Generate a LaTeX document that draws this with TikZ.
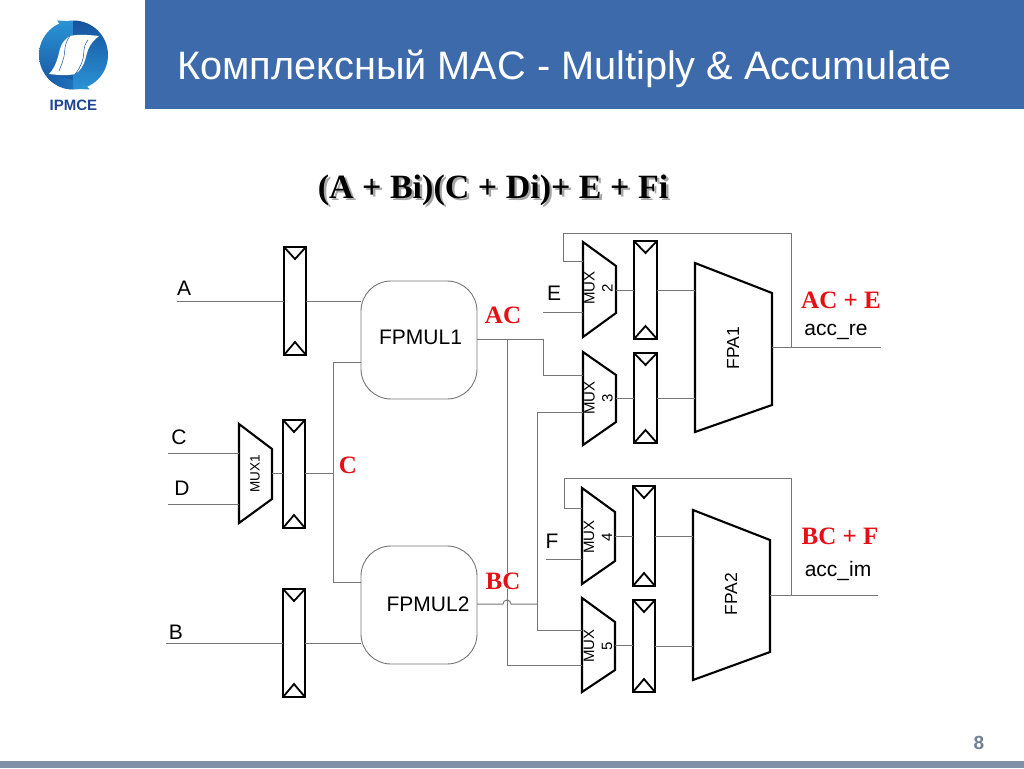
\documentclass[tikz,border=0pt]{standalone}
\usepackage{fontspec}
\setmainfont{Liberation Sans}
\newfontfamily\serifbf{Liberation Serif}[BoldFont={Liberation Serif Bold}]
\definecolor{hdr}{HTML}{3D6AAB}
\definecolor{foot}{HTML}{7F91A7}
\definecolor{wire}{HTML}{757575}
\definecolor{redl}{HTML}{E60F14}
\definecolor{pnum}{HTML}{6F8198}
\definecolor{ldark}{HTML}{17539F}
\definecolor{llight}{HTML}{2A93D5}
\definecolor{lmid}{HTML}{1F74BC}
\definecolor{ltext}{HTML}{1F4690}
\tikzset{
 x=1pt,y=-1pt,
 wireline/.style={draw=wire,line width=1pt},
 blockline/.style={draw=black,line width=2.1pt,line join=miter,fill=white},
 regbox/.style={blockline,rectangle,inner sep=0pt,outer sep=0pt},
 multbox/.style={draw=wire,line width=0.9pt,rectangle,rounded corners=30pt,inner sep=0pt,outer sep=0pt},
 blockanchor/.style={rectangle,inner sep=0pt,outer sep=0pt},
 signal/.style={font=\fontsize{21}{23}\selectfont,inner sep=0pt},
 redlabel/.style={font=\serifbf\bfseries\fontsize{25}{27}\selectfont,text=redl,inner sep=0pt},
 muxtext/.style={font=\fontsize{15}{18}\selectfont,rotate=90,align=center,inner sep=0pt},
 fpatext/.style={font=\fontsize{17.5}{19}\selectfont,rotate=90,inner sep=0pt},
}
% register: name, left, top, right, bottom
\newcommand{\regblock}[5]{%
 \node[regbox,minimum width=#4-#2,minimum height=#5-#3] (#1) at ({(#2+#4)/2},{(#3+#5)/2}) {};
 \draw[draw=black,line width=1.8pt,line join=miter] (#2,#3) -- ({(#2+#4)/2},{#3+12}) -- (#4,#3);
 \draw[draw=black,line width=1.8pt,line join=miter] (#2,#5) -- ({(#2+#4)/2},{#5-13}) -- (#4,#5);
}
% trapezoid: name, left, right, top, bottom, right top, right bottom
\newcommand{\trapblock}[7]{%
 \node[blockanchor,minimum width=#3-#2,minimum height=#5-#4] (#1) at ({(#2+#3)/2},{(#4+#5)/2}) {};
 \draw[blockline] (#2,#4) -- (#3,#6) -- (#3,#7) -- (#2,#5) -- cycle;
}
\newcommand{\formulatext}{(A + Bi)(C + Di)+ E + Fi}
\begin{document}
\begin{tikzpicture}
\useasboundingbox (0,0) rectangle (1024,768);
\fill[white] (0,0) rectangle (1024,768);
\fill[hdr] (145,0) rectangle (1024,109);
\fill[foot] (0,761) rectangle (1024,768);
\node[anchor=west,inner sep=0pt,text=white,font=\fontsize{39.7}{42}\selectfont] (title) at (177,69) {Комплексный MAC - Multiply \& Accumulate};
% logo
\begin{scope}
 \clip (73.5,55) circle (34.5);
 \shade[top color=llight,bottom color=ldark] (39,21) rectangle (73.5,89);
 \shade[top color=ldark,bottom color=llight] (73.5,21) rectangle (108,89);
 \shade[left color=ldark,right color=lmid] (49,74) -- (73,80) -- (73,89) -- (39,89) -- cycle;
\end{scope}
\fill[llight] (57,20.5) -- (66,21) -- (62,27) -- cycle;
\fill[llight] (80,89) -- (90,89.5) -- (84,84) -- cycle;
\fill[white] (99,36) .. controls (90,35) and (78,34) .. (70,36) .. controls (60,42) and (60,50) .. (58,57) .. controls (56,64) and (53,70) .. (49,74) .. controls (58,75) and (67,76) .. (75,74) .. controls (85,68) and (85,58) .. (88,50) .. controls (90,44) and (95,39) .. (99,36) -- cycle;
\draw[ldark,line width=0.5pt] (70,36) .. controls (63,45) and (66,52) .. (63,60) .. controls (62,64) and (60,68) .. (59,71);
\draw[ldark,line width=0.5pt] (88,40) .. controls (82,47) and (85,56) .. (82,62) .. controls (80,67) and (78,71) .. (75,74);
\node[inner sep=0pt,text=ltext,font=\bfseries\fontsize{15}{16}\selectfont] (logotext) at (73.5,105) {IPMCE};
% formula with its drop shadow
\node[inner sep=0pt,font=\serifbf\bfseries\fontsize{34}{36}\selectfont] (formula) at (493,190) {\makebox[0pt][l]{\hspace{2.5pt}\raisebox{-2.5pt}[0pt][0pt]{\textcolor{black!35}{\formulatext}}}\formulatext};
% free ends
\coordinate (inA) at (177,301);
\coordinate (inC) at (168,453);
\coordinate (inD) at (168,504);
\coordinate (inB) at (166,643);
\coordinate (inE) at (543,312);
\coordinate (inF) at (546,559);
\coordinate (outRe) at (881,347);
\coordinate (outIm) at (878,595);
% bends
\coordinate (cj) at (333,473);
\coordinate (cUp) at (333,362);
\coordinate (cDn) at (333,582);
\coordinate (acOut) at (477,339);
\coordinate (bcOut) at (477,604);
% blocks
\regblock{rA}{284}{247}{306}{355}
\regblock{rC}{283}{420}{305}{528}
\regblock{rB}{283}{589}{305}{697}
\regblock{r2}{634}{241}{657}{339}
\regblock{r3}{634}{353}{657}{443}
\regblock{r4}{633}{486}{655}{586}
\regblock{r5}{633}{600}{655}{692}
\trapblock{m1}{239}{272}{424}{523}{449}{499}
\trapblock{m2}{583}{616}{242}{337}{266}{313}
\trapblock{m3}{583}{616}{352}{445}{375}{422}
\trapblock{m4}{582}{615}{488}{584}{512}{561}
\trapblock{m5}{582}{615}{598}{692}{622}{670}
\trapblock{fa1}{695}{772}{263}{432}{293}{405}
\trapblock{fa2}{693}{770}{510}{680}{540}{652}
\node[multbox,minimum width=116pt,minimum height=118pt] (f1) at (419,340) {};
\node[multbox,minimum width=116pt,minimum height=118pt] (f2) at (419,605) {};
% block texts
\node[signal] (f1t) at (420.5,337) {FPMUL1};
\node[signal] (f2t) at (428,604) {FPMUL2};
\node[muxtext,font=\fontsize{13.5}{18}\selectfont] (mt1) at (255,474) {MUX1};
\node[muxtext] (mt2) at (598.5,288) {MUX\\2};
\node[muxtext] (mt3) at (598.5,398) {MUX\\3};
\node[muxtext] (mt4) at (598,537) {MUX\\4};
\node[muxtext] (mt5) at (598,646) {MUX\\5};
\node[fpatext] (ft1) at (733,348) {FPA1};
\node[fpatext] (ft2) at (731,594) {FPA2};
% wires
\draw[wireline] (inA) -- (rA.west |- inA);
\draw[wireline] (rA.east |- inA) -- (f1.west |- inA);
\draw[wireline] (inC) -- (m1.west |- inC);
\draw[wireline] (inD) -- (m1.west |- inD);
\draw[wireline] (m1.east |- cj) -- (rC.west |- cj);
\draw[wireline] (rC.east |- cj) -- (cj);
\draw[wireline] (f1.west |- cUp) -- (cUp) -- (cDn) -- (f2.west |- cDn);
\draw[wireline] (inB) -- (rB.west |- inB);
\draw[wireline] (rB.east |- inB) -- (f2.west |- inB);
% AC
\draw[wireline] (acOut) -| (543,375) -- (m3.west |- 0,375);
\draw[wireline] (507,339) -- (507,665) -- (m5.west |- 0,665);
% BC
\draw[wireline] (bcOut) -- (503,604) arc[start angle=180,end angle=360,radius=4] -- (537,604);
\draw[wireline] (m3.west |- 0,412) -- (537,412) -- (537,630) -- (m5.west |- 0,630);
% feedback + outputs
\draw[wireline] (m2.west |- 0,261) -- (563,261) -- (563,233) -- (791,233) -- (791,347);
\draw[wireline] (fa1.east |- outRe) -- (outRe);
\draw[wireline] (m4.west |- 0,508) -- (564,508) -- (564,478) -- (791,478) -- (791,595);
\draw[wireline] (fa2.east |- outIm) -- (outIm);
\draw[wireline] (inE) -- (m2.west |- inE);
\draw[wireline] (inF) -- (m4.west |- inF);
\draw[wireline] (m2.east |- 0,290) -- (r2.west |- 0,290);
\draw[wireline] (r2.east |- 0,290) -- (fa1.west |- 0,290);
\draw[wireline] (m3.east |- 0,398) -- (r3.west |- 0,398);
\draw[wireline] (r3.east |- 0,398) -- (fa1.west |- 0,398);
\draw[wireline] (m4.east |- 0,536) -- (r4.west |- 0,536);
\draw[wireline] (r4.east |- 0,536) -- (fa2.west |- 0,536);
\draw[wireline] (m5.east |- 0,645) -- (r5.west |- 0,645);
\draw[wireline] (r5.east |- 0,646) -- (fa2.west |- 0,646);
% labels
\node[signal] (lA) at (184,288) {A};
\node[signal] (lC) at (179,437) {C};
\node[signal] (lD) at (182,488) {D};
\node[signal] (lB) at (176,632) {B};
\node[signal] (lE) at (554,293) {E};
\node[signal] (lF) at (552,541) {F};
\node[signal] (lre) at (836,332) {acc\_re};
\node[signal] (lim) at (838,571) {acc\_im};
\node[redlabel] (rAC) at (503,315) {AC};
\node[redlabel] (rCC) at (348,465) {C};
\node[redlabel,fill=white] (rBC) at (503,581) {BC};
\node[redlabel] (rACE) at (841,300) {AC + E};
\node[redlabel] (rBCF) at (840,536) {BC + F};
\node[inner sep=0pt,text=pnum,font=\bfseries\fontsize{19}{21}\selectfont] (pg) at (979,743) {8};
\end{tikzpicture}
\end{document}
